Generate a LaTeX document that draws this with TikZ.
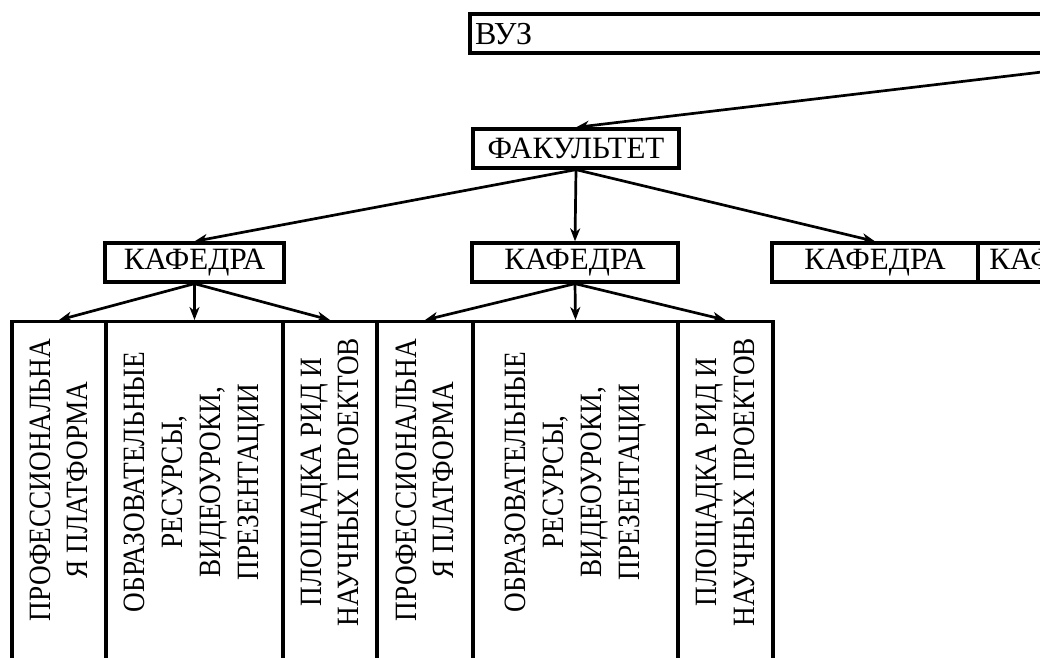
\documentclass[tikz,border=0pt]{standalone}
\usepackage{fontspec}
\setmainfont{Liberation Serif}
\usetikzlibrary{arrows.meta}
\tikzset{
  box/.style={draw, line width=3.3pt, minimum height=39pt, inner sep=0pt, font=\fontsize{31}{36}\selectfont},
  col/.style={draw, line width=3.3pt, anchor=north, minimum height=360pt, inner sep=0pt},
  coltext/.style={align=center, inner sep=0pt, rotate=90, xscale=0.88, font=\fontsize{31}{37.7}\selectfont},
  arr/.style={line width=2.7pt, -{Stealth[length=13pt,width=10pt,inset=4pt]}}
}
\begin{document}
\begin{tikzpicture}[x=1pt,y=-1pt]
\useasboundingbox (0,0) rectangle (1040,657);
\clip (0,0) rectangle (1040,657);
% top
\node[box, minimum width=1436pt] (vuz) at (1188,33.5) {};
\node[anchor=west, inner sep=0pt, font=\fontsize{32}{36}\selectfont] (vuzt) at (475,34) {ВУЗ};
\node[box, minimum width=206pt] (fac) at (576,148.5) {ФАКУЛЬТЕТ};
% departments
\node[box, minimum width=179pt] (kaf1) at (194.5,262.5) {КАФЕДРА};
\node[box, minimum width=206pt] (kaf2) at (575,262.5) {КАФЕДРА};
\node[box, minimum width=206pt] (kaf3) at (875,262.5) {КАФЕДРА};
\node[box, minimum width=164pt] (kaf4) at (1060,262.5) {КАФЕДРА};
% columns
\node[col, minimum width=94pt] (c1) at (59,320) {};
\node[col, minimum width=177pt] (c2) at (194.5,320) {};
\node[col, minimum width=94pt] (c3) at (330,320) {};
\node[col, minimum width=96pt] (c4) at (425,320) {};
\node[col, minimum width=205pt] (c5) at (575.5,320) {};
\node[col, minimum width=95pt] (c6) at (725.5,320) {};
% column texts
\node[coltext] (t1) at (59,480) {ПРОФЕССИОНАЛЬНА\\Я ПЛАТФОРМА};
\node[coltext] (t2) at (194.5,482) {ОБРАЗОВАТЕЛЬНЫЕ\\РЕСУРСЫ,\\ВИДЕОУРОКИ,\\ПРЕЗЕНТАЦИИ};
\node[coltext] (t3) at (330,482) {ПЛОЩАДКА РИД И\\НАУЧНЫХ ПРОЕКТОВ};
\node[coltext] (t4) at (425,480) {ПРОФЕССИОНАЛЬНА\\Я ПЛАТФОРМА};
\node[coltext] (t5) at (575.5,482) {ОБРАЗОВАТЕЛЬНЫЕ\\РЕСУРСЫ,\\ВИДЕОУРОКИ,\\ПРЕЗЕНТАЦИИ};
\node[coltext] (t6) at (725.5,482) {ПЛОЩАДКА РИД И\\НАУЧНЫХ ПРОЕКТОВ};
% arrows
\draw[arr] (vuz.south) -- (fac.north);
\draw[arr] (fac.south) -- (kaf1.north);
\draw[arr] (fac.south) -- (kaf2.north);
\draw[arr] (fac.south) -- (kaf3.north);
\draw[arr] (kaf1.south) -- (c1.north);
\draw[arr] (kaf1.south) -- (c2.north);
\draw[arr] (kaf1.south) -- (c3.north);
\draw[arr] (kaf2.south) -- (c4.north);
\draw[arr] (kaf2.south) -- (c5.north);
\draw[arr] (kaf2.south) -- (c6.north);
\end{tikzpicture}
\end{document}
